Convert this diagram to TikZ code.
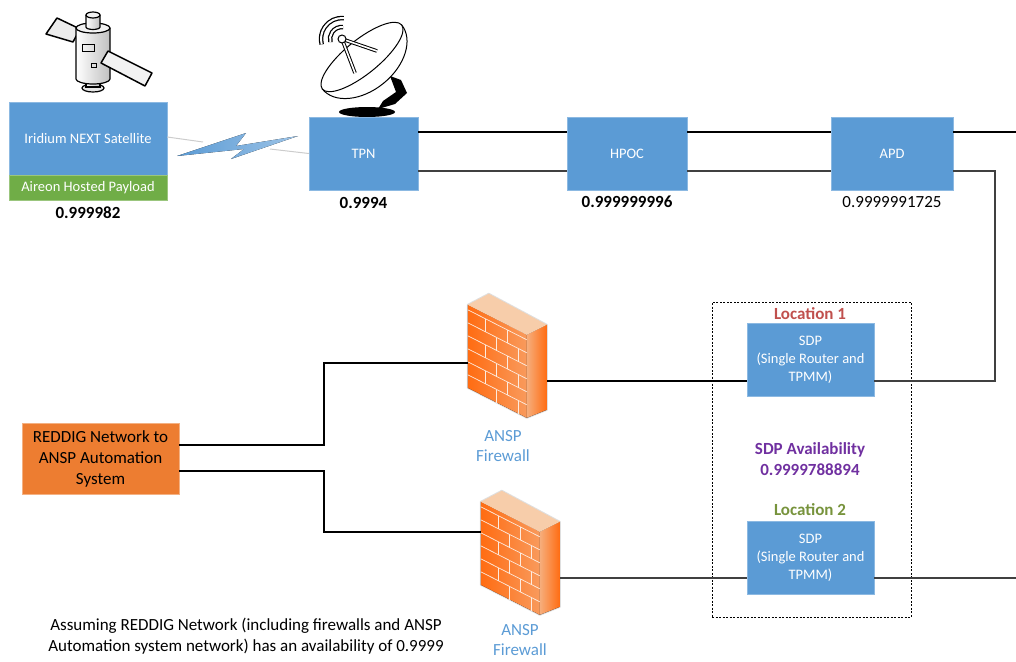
\documentclass[tikz,border=0pt]{standalone}
\usepackage{fontspec}
\setmainfont{Carlito}
\usetikzlibrary{positioning}

\definecolor{unitblue}{HTML}{5B9BD5}
\definecolor{payloadgreen}{HTML}{70AD47}
\definecolor{reddigorange}{HTML}{ED7D31}
\definecolor{locred}{HTML}{C0504D}
\definecolor{locgreen}{HTML}{77933C}
\definecolor{availpurple}{HTML}{7030A0}
\definecolor{fwdeep}{HTML}{FF6C12}
\definecolor{fwsoft}{HTML}{F6AE7C}
\definecolor{fwtop}{HTML}{F7CDAA}

\tikzset{
	unit/.style={fill=unitblue,draw=unitblue!70!white,text=white,align=center,inner sep=0pt,font=\fontsize{14.5}{18}\selectfont},
	figure/.style={font=\fontsize{17}{21}\selectfont\bfseries},
	plain/.style={font=\fontsize{17}{21}\selectfont,align=center},
	link/.style={draw=black,line width=1.1pt},
	radio/.style={draw=gray!40,line width=1pt},
	fwnode/.style={minimum width=79pt,minimum height=124pt,inner sep=0pt},
	fwtext/.style={text=unitblue,font=\fontsize{17}{20}\selectfont,align=center},
	brick/.style={draw=white!75!fwsoft,line width=0.7pt},
	firewall/.pic={
		\draw[gray!25,line width=2pt,line join=round] (0,0) -- (21,-11) -- (79,20) -- (79,105) -- (59,113) -- (0,83) -- cycle;
		\fill[left color=fwdeep,right color=fwsoft!70!fwdeep] (0,0) -- (59,30) -- (59,113) -- (0,83) -- cycle;
		\fill[left color=fwsoft,right color=fwdeep] (59,30) -- (79,20) -- (79,105) -- (59,113) -- cycle;
		\fill[fwtop] (0,0) -- (21,-11) -- (79,20) -- (59,30) -- cycle;
		\foreach \r in {5,18,31,44,57,70}
			\draw[brick] (0,\r) -- (59,{\r+30});
		\foreach \k in {0,...,5} {
			\pgfmathsetmacro\ja{mod(\k,2)==0 ? 18 : 29}
			\foreach \jx in {\ja,\ja+22}
				\draw[brick] ({\jx},{5+13*\k+(\jx)*30/59}) -- ++(0,13);
		}
	}
}

\begin{document}
\begin{tikzpicture}[x=1pt,y=-1pt]
	\useasboundingbox (0,0) rectangle (1016,661);

	% satellite icon
	\draw[fill=gray!15,line width=1.5pt,line join=round] (46,34) -- (57,18) -- (80,29) -- (73,42) -- cycle;
	\draw[fill=gray!20,line width=1.2pt] (93,88) ellipse[x radius=11,y radius=4];
	\draw[left color=white,right color=gray!50,line width=1.2pt] (86,78) rectangle (100,87);
	\draw[left color=white,right color=gray!50,line width=1.2pt] (76,28) -- (76,79) arc[start angle=180,end angle=0,x radius=17,y radius=5] -- (110,28);
	\draw[fill=gray!10,line width=1.2pt] (93,28) ellipse[x radius=17,y radius=5];
	\draw[left color=white,right color=gray!50,line width=1.2pt] (86,15) -- (86,27) arc[start angle=180,end angle=0,x radius=7,y radius=2.5] -- (100,15);
	\draw[fill=gray!10,line width=1.2pt] (93,15) ellipse[x radius=7,y radius=3];
	\draw[line width=1pt] (82,45) rectangle (94,52);
	\draw[line width=1pt] (91,63) rectangle (96,67);
	\draw[fill=gray!10,line width=1.5pt,line join=round] (101,63) -- (108,51) -- (152,73) -- (145,86) -- cycle;

	% dish icon
	\fill (390,76) -- (401,80) -- (407,93) -- (395,104) -- (378,109) -- (383,101) -- (396,92) -- (393,84) -- cycle;
	\fill (367,112) ellipse[x radius=28,y radius=5];
	\begin{scope}[shift={(362,57)},rotate=39,y=1pt]
		\draw[fill=white,line width=1pt] (-51,0) arc[start angle=180,end angle=360,x radius=51,y radius=34] -- cycle;
		\draw[fill=white,line width=1pt] (0,0) ellipse[x radius=51,y radius=17];
	\end{scope}
	\foreach \tip in {(377,51),(355,73)} {
		\draw[line width=3.6pt] (342,39) -- \tip;
		\draw[white,line width=1.6pt] (342,39) -- \tip;
	}
	\draw[fill=white,line width=1pt] (342,39) circle[radius=4];
	\foreach \r in {12,21} {
		\draw[line width=4.5pt] ([shift={(-85:\r)}]342,39) arc[start angle=-85,end angle=-195,radius=\r];
		\draw[white,line width=2pt] ([shift={(-85:\r)}]342,39) arc[start angle=-85,end angle=-195,radius=\r];
	}

	% top row
	\node[unit,minimum width=158pt,minimum height=73pt] (sat) at (88,138.5) {Iridium NEXT Satellite};
	\node[unit,fill=payloadgreen,draw=payloadgreen!70!white,minimum width=158pt,minimum height=25pt,below=0pt of sat] (hosted) {Aireon Hosted Payload};
	\node[figure] (satfig) at (88,213) {0.999982};
	\node[unit,minimum width=109pt,minimum height=73pt] (tpn) at (363.5,153.5) {TPN};
	\node[figure] (tpnfig) at (363.5,203) {0.9994};
	\node[unit,minimum width=120pt,minimum height=73pt] (hpoc) at (627,153.5) {HPOC};
	\node[figure] (hpocfig) at (627,202) {0.999999996};
	\node[unit,minimum width=122pt,minimum height=73pt] (apd) at (892,153.5) {APD};
	\node[plain] (apdfig) at (892,202) {0.9999991725};

	% radio link
	\coordinate (boltL) at (203,142);
	\coordinate (boltR) at (270,149);
	\draw[radio] ([yshift=1.5pt]sat.east) -- (boltL);
	\draw[radio] (boltR) -- (tpn.west);
	\fill[left color=unitblue,right color=unitblue!60] (177,156) -- (246,133) -- (236,146) -- (298,136) -- (231,159) -- (244,149) -- cycle;

	% sdp site
	\node[draw,line width=0.8pt,dash pattern=on 2pt off 1.5pt,minimum width=199pt,minimum height=315pt] (site) at (811.5,459.5) {};
	\node[unit,minimum width=127pt,minimum height=73pt] (sdpA) at (810.5,359.5) {SDP\\(Single Router and\\TPMM)};
	\node[figure,text=locred] (locA) at (810,314) {Location 1};
	\node[figure,text=availpurple,align=center] (avail) at (810,459) {SDP Availability\\0.9999788894};
	\node[figure,text=locgreen] (locB) at (810,510) {Location 2};
	\node[unit,minimum width=127pt,minimum height=73pt] (sdpB) at (810.5,557.5) {SDP\\(Single Router and\\TPMM)};

	% firewalls
	\node[fwnode] (fwA) at (507.5,356) {};
	\pic at ([yshift=-11pt]fwA.north west) {firewall};
	\node[fwtext] (fwAtext) at (503,446) {ANSP\\Firewall};
	\node[fwnode] (fwB) at (520.5,553) {};
	\pic at ([yshift=-11pt]fwB.north west) {firewall};
	\node[fwtext] (fwBtext) at (520,640) {ANSP\\Firewall};

	% reddig
	\node[fill=reddigorange,draw=reddigorange!60!white,minimum width=157pt,minimum height=71pt,inner sep=0pt,plain] (reddig) at (100.5,458.5) {REDDIG Network to\\ANSP Automation\\System};
	\node[plain] (note) at (246,636.5) {Assuming REDDIG Network (including firewalls and ANSP\\Automation system network) has an availability of 0.9999};

	% connectors
	\coordinate (hi) at (0,132);
	\coordinate (lo) at (0,171);
	\coordinate (edge) at (1016,0);
	\coordinate (drop) at (995,381);
	\coordinate (rowB) at (0,578);
	\coordinate (ra) at (324,363);
	\coordinate (rb) at (324,532);
	\draw[link] (tpn.east |- hi) -- (hpoc.west |- hi) (hpoc.east |- hi) -- (apd.west |- hi) (apd.east |- hi) -- (edge |- hi);
	\draw[link,draw=black!75] (tpn.east |- lo) -- (hpoc.west |- lo) (hpoc.east |- lo) -- (apd.west |- lo);
	\draw[link,draw=black!75] (apd.east |- lo) -| (drop) -- (sdpA.east |- drop);
	\draw[link] (fwA.east |- drop) -- (sdpA.west |- drop);
	\draw[link,draw=black!75] (fwB.east |- rowB) -- (sdpB.west |- rowB) (sdpB.east |- rowB) -- (edge |- rowB);
	\draw[link] ([yshift=13.5pt]reddig.east) -| (ra) -- (fwA.west |- ra);
	\draw[link] ([yshift=-12.5pt]reddig.east) -| (rb) -- (fwB.west |- rb);
\end{tikzpicture}
\end{document}
